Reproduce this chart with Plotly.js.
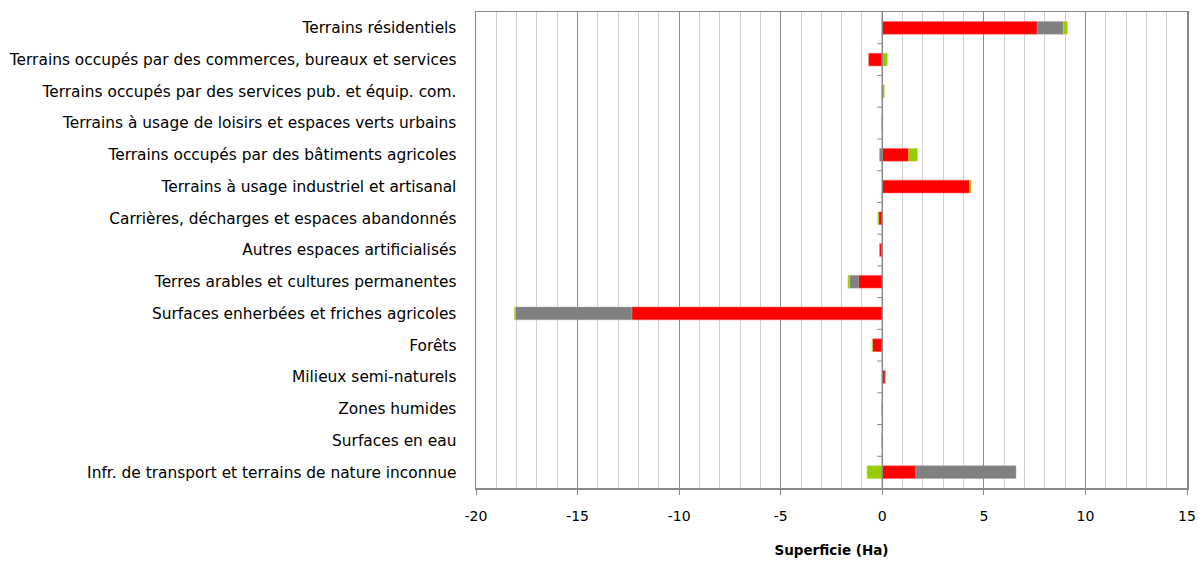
<!DOCTYPE html>
<html><head><meta charset="utf-8">
<script src="https://cdn.plot.ly/plotly-3.0.1.min.js"></script>
<style>body{margin:0;background:#fff}#c{width:1199px;height:562px}</style>
</head><body><div id="c"></div>
<script>
const categories = [
  "Terrains résidentiels",
  "Terrains occupés par des commerces, bureaux et services",
  "Terrains occupés par des services pub. et équip. com.",
  "Terrains à usage de loisirs et espaces verts urbains",
  "Terrains occupés par des bâtiments agricoles",
  "Terrains à usage industriel et artisanal",
  "Carrières, décharges et espaces abandonnés",
  "Autres espaces artificialisés",
  "Terres arables et cultures permanentes",
  "Surfaces enherbées et friches agricoles",
  "Forêts",
  "Milieux semi-naturels",
  "Zones humides",
  "Surfaces en eau",
  "Infr. de transport et terrains de nature inconnue"
];
const redValues   = [7.62, -0.67, 0, 0, 1.30, 4.30, -0.18, -0.13, -1.17, -12.33, -0.48, 0.15, 0, 0, 1.65];
const grayValues  = [1.29, 0, 0, 0, -0.13, 0, 0, 0, -0.44, -5.73, 0, 0, 0, 0, 4.93];
const greenValues = [0.20, 0.25, 0.10, 0, 0.43, 0.08, -0.04, 0, -0.08, -0.05, -0.03, 0, 0, 0, -0.75];
const xTicks = [-20, -15, -10, -5, 0, 5, 10, 15];

function tr(vals, color, line) {
  return {type:'bar', orientation:'h', y:categories, x:vals,
    marker:{color:color, line:{color:line, width:0.5}}, hoverinfo:'x+y', showlegend:false};
}
const data = [tr(redValues,'#ff0000','#ff6060'), tr(grayValues,'#808080','#a0a0a0'), tr(greenValues,'#99cc00','#b8dd40')];

const shapes = [];
for (let i = 0; i < categories.length - 1; i++) {
  shapes.push({type:'line', xref:'x', yref:'y', x0:-0.25, x1:0, y0:i+0.5, y1:i+0.5, line:{color:'#888', width:1}});
}
shapes.push({type:'line', xref:'x', yref:'paper', x0:0, x1:0, y0:0, y1:1, line:{color:'#888', width:1.5}});

const layout = {
  width:1199, height:562,
  margin:{l:476, r:12, t:12, b:74},
  paper_bgcolor:'#fff', plot_bgcolor:'#fff',
  barmode:'relative', bargap:0.6,
  font:{family:'DejaVu Sans, Verdana, sans-serif', size:15, color:'#000'},
  xaxis:{range:[-20,15], tickvals:xTicks, ticktext:xTicks.map(String), showgrid:true, gridcolor:'#8c8c8c', gridwidth:1,
    minor:{dtick:1, tick0:0, showgrid:true, gridcolor:'#cfcfcf', gridwidth:1},
    zeroline:false, showline:true, linecolor:'#888', linewidth:1.5, mirror:true,
    ticks:'outside', ticklen:5, tickcolor:'#888', ticklabelstandoff:10,
    tickfont:{family:'DejaVu Sans, Verdana, sans-serif', size:14},
    title:{text:'<b>Superficie (Ha)</b>', font:{size:13.5}, standoff:22}},
  yaxis:{categoryorder:'array', categoryarray:categories, autorange:'reversed', type:'category',
    showgrid:false, zeroline:false, showline:true, linecolor:'#888', linewidth:1.5, mirror:true,
    ticks:'', ticklabelstandoff:15, tickfont:{size:15.4}},
  shapes:shapes
};
Plotly.newPlot('c', data, layout, {displayModeBar:false, staticPlot:true});
</script></body></html>
